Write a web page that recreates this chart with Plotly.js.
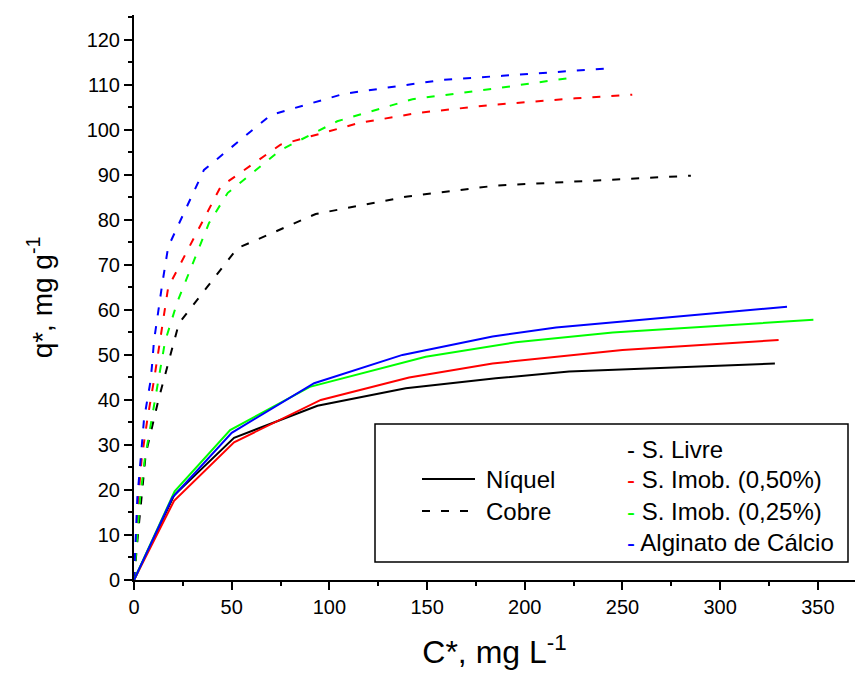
<!DOCTYPE html>
<html><head><meta charset="utf-8">
<script src="https://cdn.plot.ly/plotly-3.0.1.min.js"></script>
<style>html,body{margin:0;padding:0;background:#fff}#chart{width:856px;height:679px}</style>
</head><body><div id="chart"></div>
<script>
// ---- data ----
const seriesNames = ['S. Livre', 'S. Imob. (0,50%)', 'S. Imob. (0,25%)', 'Alginato de Cálcio'];
const seriesColors = ['#000000', '#ff0000', '#00ff00', '#0000ff'];
const metalNames = ['Níquel', 'Cobre'];

// Níquel (solid)
const niLivreX = [0, 20.5, 51.2, 93.9, 139.1, 185.2, 222.7, 328];
const niLivreY = [0, 18.8, 31.6, 38.7, 42.6, 44.8, 46.3, 48.1];
const niImob50X = [0, 20.5, 51.2, 95.6, 140.8, 183.5, 250, 329.9];
const niImob50Y = [0, 17.6, 30.6, 40.0, 45.0, 48.1, 51.1, 53.3];
const niImob25X = [0, 20.8, 49.2, 90, 149.3, 195.4, 245, 347.7];
const niImob25Y = [0, 19.7, 33.3, 42.9, 49.6, 52.8, 55.0, 57.8];
const niAlgX = [0, 19.6, 50, 92.2, 137.4, 183.5, 216, 334.2];
const niAlgY = [0, 18.3, 32.7, 43.7, 50.0, 54.1, 56.1, 60.7];

// Cobre (dashed)
const cuLivreX = [0, 2, 6, 12.5, 20.5, 23, 52.9, 93, 140, 185, 230, 285];
const cuLivreY = [0, 10, 28, 40, 53, 57, 73.7, 81.3, 85.2, 87.6, 88.6, 89.8];
const cuImob50X = [0, 1, 2.2, 3.9, 6.8, 10.2, 13.2, 17.5, 44.4, 75, 115, 146, 185, 226, 255];
const cuImob50Y = [0, 9, 18.2, 26.8, 35.6, 44.3, 53, 65, 87.4, 96.7, 101.5, 103.8, 105.6, 107, 107.8];
const cuImob25X = [0, 1.7, 3.1, 5.5, 9.1, 12.5, 15.9, 22.2, 38.4, 48, 75, 104, 142.5, 183.5, 226.2];
const cuImob25Y = [0, 9.5, 18.2, 26.8, 35.6, 44.3, 53, 61.8, 79.3, 86, 95.5, 101.9, 106.8, 109.1, 111.7];
const cuAlgX = [0, 0.8, 1.7, 3.4, 5.1, 6.8, 8.5, 9.4, 10.2, 14.5, 17.5, 35.8, 70, 107.5, 158, 188.6, 241];
const cuAlgY = [0, 9.5, 18.2, 26.8, 35.6, 40, 44.3, 48.5, 53, 65.9, 74, 91.1, 103.3, 108, 111.1, 112, 113.6];

const xTitle = 'C*, mg L<sup>-1</sup>';
const yTitle = 'q*, mg g<sup>-1</sup>';

// ---- layout helpers (pixel -> paper) ----
const W = 856, H = 679;
const M = {l: 134, r: 1, t: 15, b: 99};
const PW = W - M.l - M.r, PH = H - M.t - M.b;
const px = x => (x - M.l) / PW;
const py = y => (H - M.b - y) / PH;

const niX = [niLivreX, niImob50X, niImob25X, niAlgX];
const niY = [niLivreY, niImob50Y, niImob25Y, niAlgY];
const cuX = [cuLivreX, cuImob50X, cuImob25X, cuAlgX];
const cuY = [cuLivreY, cuImob50Y, cuImob25Y, cuAlgY];

const traces = [];
for (let i = 0; i < 4; i++) {
  traces.push({x: cuX[i], y: cuY[i], type: 'scatter', mode: 'lines', name: metalNames[1] + ' ' + seriesNames[i],
    line: {color: seriesColors[i], width: 2, dash: '8px,11px'}, showlegend: false, hoverinfo: 'skip'});
}
for (let i = 0; i < 4; i++) {
  traces.push({x: niX[i], y: niY[i], type: 'scatter', mode: 'lines', name: metalNames[0] + ' ' + seriesNames[i],
    line: {color: seriesColors[i], width: 2}, showlegend: false, hoverinfo: 'skip'});
}

const fontFam = '"Liberation Sans", Arial, sans-serif';
const legFont = {family: fontFam, size: 24, color: '#000'};
const rowY = [449, 479, 511, 542];

const shapes = [
  {type: 'rect', xref: 'paper', yref: 'paper', x0: px(375), x1: px(848), y0: py(424), y1: py(562),
   line: {color: '#000', width: 1.5}, fillcolor: '#fff', layer: 'above'},
  {type: 'line', xref: 'paper', yref: 'paper', x0: px(422), x1: px(475), y0: py(479), y1: py(479),
   line: {color: '#000', width: 2}},
  {type: 'line', xref: 'paper', yref: 'paper', x0: px(422), x1: px(474), y0: py(511), y1: py(511),
   line: {color: '#000', width: 2, dash: '8px,11px'}}
];

const annotations = [
  {text: metalNames[0], x: px(484), y: py(479)},
  {text: metalNames[1], x: px(484), y: py(511)}
];
for (let i = 0; i < 4; i++) {
  annotations.push({text: '<span style="color:' + seriesColors[i] + '">-</span> ' + seriesNames[i], x: px(625), y: py(rowY[i])});
}
annotations.forEach(a => Object.assign(a, {xref: 'paper', yref: 'paper', xanchor: 'left', yanchor: 'middle', showarrow: false, font: legFont}));

const axisCommon = {
  showline: true, linecolor: '#000', linewidth: 2, mirror: false,
  ticks: 'outside', ticklen: 8, tickwidth: 2, tickcolor: '#000',
  showgrid: false, zeroline: false,
  tickfont: {family: fontFam, size: 20, color: '#000'}
};

const layout = {
  width: W, height: H,
  margin: M,
  paper_bgcolor: '#fff', plot_bgcolor: '#fff',
  showlegend: false,
  xaxis: Object.assign({}, axisCommon, {
    range: [0, 369], dtick: 50, tick0: 0,
    minor: {dtick: 25, ticks: 'outside', ticklen: 4, tickwidth: 2, tickcolor: '#000'},
    title: {text: xTitle, font: {family: fontFam, size: 32, color: '#000'}, standoff: 24}
  }),
  yaxis: Object.assign({}, axisCommon, {
    range: [0, 125.5], dtick: 10, tick0: 0,
    minor: {dtick: 5, ticks: 'outside', ticklen: 4, tickwidth: 2, tickcolor: '#000'},
    title: {text: yTitle, font: {family: fontFam, size: 28, color: '#000'}, standoff: 26}
  }),
  shapes: shapes,
  annotations: annotations
};

Plotly.newPlot('chart', traces, layout, {staticPlot: true, displayModeBar: false});
</script>
</body></html>
